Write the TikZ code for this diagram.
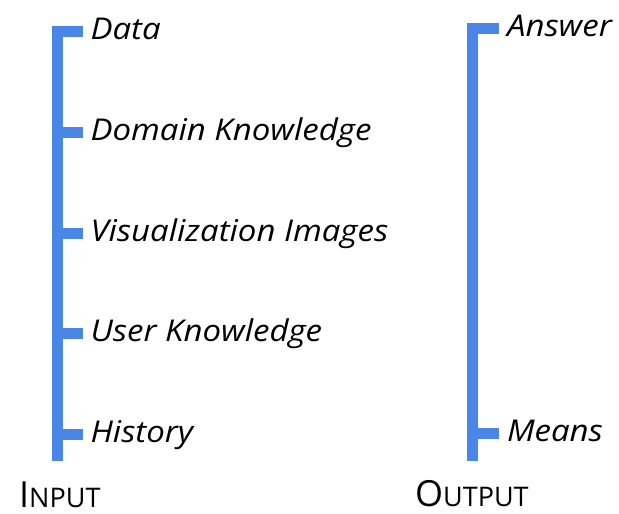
\documentclass[tikz,border=0pt]{standalone}
\usepackage{fontspec}
\usepackage{xcolor}
\setmainfont{Open Sans}
\newfontfamily\itemfont{Open Sans}[FakeStretch=1.1]
\definecolor{barblue}{RGB}{74,134,232}
\usetikzlibrary{calc}

\begin{document}
\begin{tikzpicture}[x=1pt, y=-1pt,
    bar/.style={draw=barblue, line width=11pt, line cap=butt},
    item/.style={anchor=west, inner sep=0pt, outer xsep=7.5pt, text height=20pt, text depth=4pt, font=\itemfont\fontsize{30}{36}\selectfont\itshape},
    side/.style={anchor=base west, inner sep=0pt, font=\fontsize{36}{40}\selectfont}]
    \useasboundingbox (0,0) rectangle (619,514);

    % input side
    \coordinate (intop) at (57.5,26);
    \coordinate (inbot) at (57.5,461);
    \node (data) [item] at (83,31.5) {Data};
    \node (domain) [item] at (83,132) {Domain Knowledge};
    \node (vis) [item] at (83,233) {Visualization Images};
    \node (user) [item] at (83,333) {User Knowledge};
    \node (hist) [item] at (83,434) {History};
    \node (input) [side] at (19,507) {I{\fontsize{27}{30}\selectfont NPUT}};

    \draw[bar] (intop) -- (inbot);
    \draw[bar] (data.west -| intop) -- (data.west);
    \draw[bar] (domain.west -| intop) -- (domain.west);
    \draw[bar] (vis.west -| intop) -- (vis.west);
    \draw[bar] (user.west -| intop) -- (user.west);
    \draw[bar] (hist.west -| intop) -- (hist.west);

    % output side
    \coordinate (outtop) at (472,23);
    \coordinate (outbot) at (472,461);
    \node (answer) [item, outer xsep=8pt] at (499,28.5) {Answer};
    \node (means) [item, outer xsep=8pt] at (499,433.5) {Means};
    \node (output) [side] at (415,506) {O{\fontsize{27}{30}\selectfont UTPUT}};

    \draw[bar] (outtop) -- (outbot);
    \draw[bar] (answer.west -| outtop) -- (answer.west);
    \draw[bar] (means.west -| outtop) -- (means.west);
\end{tikzpicture}
\end{document}
